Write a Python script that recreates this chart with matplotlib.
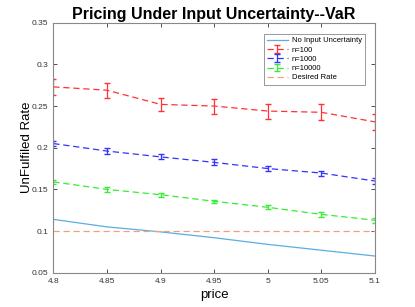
import numpy as np
import matplotlib
matplotlib.use('Agg')
import matplotlib.pyplot as plt

plt.rcParams['font.family'] = ['Liberation Sans', 'DejaVu Sans']

price = [4.8, 4.85, 4.9, 4.95, 5.0, 5.05, 5.1]
no_unc = [0.114, 0.105, 0.099, 0.092, 0.084, 0.077, 0.070]
n100 = [0.273, 0.269, 0.252, 0.250, 0.244, 0.2425, 0.231]
n100_err = [0.010, 0.009, 0.008, 0.009, 0.009, 0.0098, 0.0098]
n1000 = [0.205, 0.196, 0.189, 0.1824, 0.175, 0.1696, 0.160]
n1000_err = [0.0025, 0.0035, 0.003, 0.0035, 0.0035, 0.003, 0.004]
n10000 = [0.159, 0.150, 0.1436, 0.1357, 0.1285, 0.120, 0.113]
n10000_err = [0.002, 0.003, 0.0025, 0.002, 0.0025, 0.003, 0.003]
desired = 0.1

fig = plt.figure(figsize=(4.15, 3.07), dpi=100)
ax = fig.add_axes([0.1285, 0.1117, 0.775, 0.8143])

h0, = ax.plot(price, no_unc, color='#5aaee0', lw=0.9, label='No Input Uncertainty')
h1 = ax.errorbar(price, n100, yerr=n100_err, color='#ff3333', ls=(0, (5, 3)), lw=0.9,
                 capsize=2.5, elinewidth=0.9, label='n=100')
h2 = ax.errorbar(price, n1000, yerr=n1000_err, color='#3333ff', ls=(0, (5, 3)), lw=0.9,
                 capsize=2.5, elinewidth=0.9, label='n=1000')
h3 = ax.errorbar(price, n10000, yerr=n10000_err, color='#33ee33', ls=(0, (5, 3)), lw=0.9,
                 capsize=2.5, elinewidth=0.9, label='n=10000')
h4 = ax.axhline(desired, color='#f0a080', ls=(0, (5, 3)), lw=0.9, label='Desired Rate')

ax.set_xlim(4.8, 5.1)
ax.set_ylim(0.05, 0.35)
ax.set_xticks(price)
ax.set_xticklabels(['4.8', '4.85', '4.9', '4.95', '5', '5.05', '5.1'])
ax.set_yticks([0.05, 0.1, 0.15, 0.2, 0.25, 0.3, 0.35])
ax.set_yticklabels(['0.05', '0.1', '0.15', '0.2', '0.25', '0.3', '0.35'])
ax.tick_params(direction='in', length=3, labelsize=6, colors='#333333',
               top=True, right=True, width=0.6)
for s in ax.spines.values():
    s.set_color('#888888')
    s.set_linewidth(0.8)

ax.set_xlabel('price', fontsize=9.5, labelpad=3)
ax.set_ylabel('UnFulfiled Rate', fontsize=9.5, labelpad=-1)
ax.set_title('Pricing Under Input Uncertainty--VaR', fontsize=11.5, fontweight='bold', pad=3)

leg = ax.legend([h0, h1, h2, h3, h4],
                ['No Input Uncertainty', 'n=100', 'n=1000', 'n=10000', 'Desired Rate'],
                loc='upper right', fontsize=5.5, fancybox=False, framealpha=1,
                edgecolor='#888888', handlelength=2.7, borderpad=0.4,
                labelspacing=0.25, handletextpad=0.5, bbox_to_anchor=(0.98, 0.97))
leg.get_frame().set_linewidth(0.6)

fig.savefig('out.png', dpi=100)
